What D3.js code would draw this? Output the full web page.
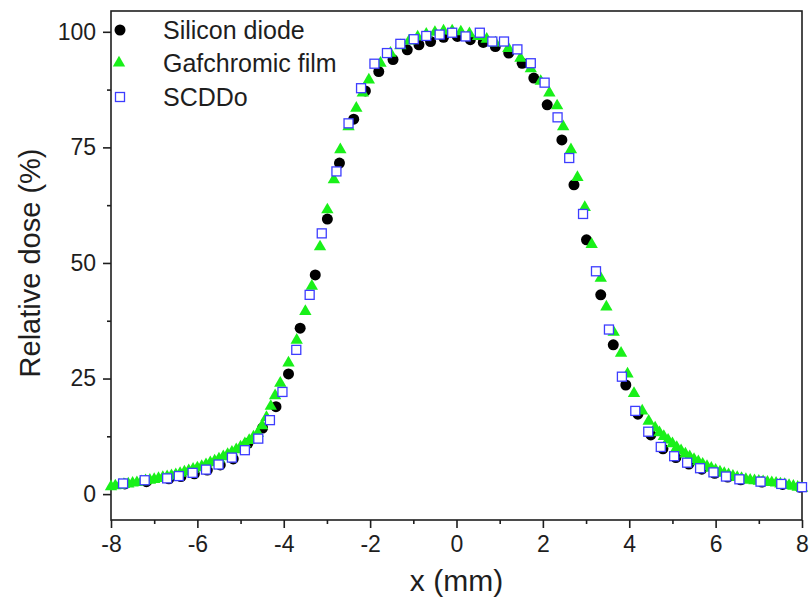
<!DOCTYPE html>
<html>
<head>
<meta charset="utf-8">
<script src="https://cdn.jsdelivr.net/npm/d3@7"></script>
<style>
  body { margin: 0; background: #fff; }
  text { font-family: "Liberation Sans", Arial, sans-serif; fill: #1e1e1e; }
</style>
</head>
<body>
<div id="chart"></div>
<script>
// Silicon diode (black dots)
var diodeX = [-7.68, -7.18, -6.66, -6.38, -6.07, -5.77, -5.47, -5.17, -4.83, -4.49, -4.18, -3.89, -3.62, -3.27,
  -2.99, -2.71, -2.38, -2.11, -1.80, -1.47, -1.14, -0.87, -0.60, -0.30, 0.02, 0.32, 0.62, 0.90, 1.21, 1.52,
  1.79, 2.10, 2.44, 2.72, 3.01, 3.34, 3.63, 3.92, 4.20, 4.50, 4.78, 5.08, 5.38, 5.68, 5.98, 6.28, 6.58,
  7.07, 7.55, 7.95];
var diodeY = [2.2, 2.7, 3.3, 3.8, 4.4, 5.2, 6.3, 7.6, 11.0, 14.3, 18.9, 26.0, 35.9, 47.4,
  59.5, 71.6, 81.1, 87.2, 91.4, 94.0, 96.1, 97.2, 97.9, 98.8, 99.0, 98.3, 97.7, 96.8, 95.4, 93.2,
  90.0, 84.2, 76.6, 66.9, 55.0, 43.1, 32.3, 23.6, 17.3, 12.8, 9.8, 7.9, 6.5, 5.4, 4.5, 3.7, 3.1,
  2.6, 2.1, 1.5];

// Gafchromic film (green triangles)
var filmX = [-8.0, -7.9, -7.8, -7.7, -7.6, -7.5, -7.4, -7.3, -7.2, -7.1, -7.0, -6.9, -6.8, -6.7, -6.6, -6.5,
  -6.4, -6.3, -6.2, -6.1, -6.0, -5.9, -5.8, -5.7, -5.6, -5.5, -5.4, -5.3, -5.2, -5.1, -5.0, -4.9, -4.8,
  -4.7, -4.6, -4.5, -4.4, -4.3, -4.2, -4.08, -3.89, -3.70, -3.50, -3.35, -3.16, -2.99, -2.84, -2.69,
  -2.50, -2.32, -2.17, -2.03, -1.76, -1.53, -1.3, -1.1, -0.9, -0.7, -0.5, -0.3, -0.1, 0.1, 0.3, 0.5,
  0.7, 0.9, 1.2, 1.48, 1.72, 1.95, 2.15, 2.33, 2.47, 2.65, 2.8, 2.97, 3.13, 3.34, 3.47, 3.64, 3.81,
  3.96, 4.11, 4.3, 4.45, 4.6, 4.7, 4.8, 4.9, 5.0, 5.1, 5.2, 5.3, 5.4, 5.5, 5.6, 5.7, 5.8, 5.9, 6.0,
  6.1, 6.2, 6.3, 6.4, 6.5, 6.6, 6.7, 6.8, 6.9, 7.0, 7.1, 7.2, 7.3, 7.4, 7.5, 7.6, 7.7, 7.8, 7.9, 8.0];
var filmY = [1.6, 1.8, 1.9, 2.1, 2.2, 2.4, 2.5, 2.7, 2.9, 3.0, 3.2, 3.4, 3.6, 3.8, 4.0, 4.2,
  4.5, 4.8, 5.1, 5.4, 5.7, 6.0, 6.4, 6.8, 7.2, 7.6, 8.1, 8.6, 9.1, 9.6, 10.2, 10.9, 11.6,
  12.4, 13.2, 14.8, 16.6, 19.0, 21.3, 24.0, 28.4, 33.3, 39.5, 45.0, 53.5, 61.5, 68.0, 74.5,
  79.5, 83.5, 86.8, 89.6, 93.2, 95.4, 97.0, 98.0, 98.9, 99.5, 99.9, 100.2, 100.2, 100.0, 99.6, 99.0,
  98.4, 97.6, 96.4, 94.3, 92.0, 89.3, 86.8, 84.0, 79.5, 74.5, 68.5, 62.0, 54.0, 46.7, 40.5, 35.0, 30.5,
  26.0, 21.8, 18.0, 15.8, 14.3, 13.3, 12.5, 11.7, 10.9, 10.1, 9.4, 8.7, 8.1, 7.5, 7.0, 6.5, 6.0, 5.6, 5.2,
  4.8, 4.5, 4.2, 3.9, 3.6, 3.4, 3.2, 3.0, 2.9, 2.8, 2.7, 2.6, 2.5, 2.4, 2.2, 2.1, 1.9, 1.7, 1.5, 1.3];

// SCDDo (open blue squares)
var scddoX = [-7.72, -7.22, -6.70, -6.43, -6.11, -5.80, -5.51, -5.20, -4.90, -4.59, -4.32, -4.03, -3.71,
  -3.40, -3.12, -2.78, -2.50, -2.21, -1.90, -1.61, -1.30, -0.99, -0.70, -0.39, -0.10, 0.21, 0.54, 0.83,
  1.10, 1.41, 1.72, 2.04, 2.34, 2.61, 2.93, 3.23, 3.53, 3.83, 4.14, 4.44, 4.73, 5.04, 5.34, 5.64, 5.95,
  6.24, 6.55, 7.04, 7.52, 8.0];
var scddoY = [2.3, 3.0, 3.4, 3.9, 4.6, 5.3, 6.4, 7.9, 9.5, 12.0, 16.0, 22.1, 31.2,
  43.1, 56.4, 69.8, 80.2, 87.8, 93.1, 95.4, 97.4, 98.4, 99.1, 99.4, 99.8, 99.0, 99.8, 97.9,
  97.9, 96.2, 93.2, 89.0, 81.5, 72.7, 60.6, 48.2, 35.6, 25.4, 18.0, 13.5, 10.2, 8.2, 6.8, 5.6, 4.7,
  3.8, 3.2, 2.7, 2.2, 1.5];

var xTicks = [-8, -6, -4, -2, 0, 2, 4, 6, 8];
var yTicks = [0, 25, 50, 75, 100];
var seriesNames = ["Silicon diode", "Gafchromic film", "SCDDo"];

var W = 810, H = 606;
var svg = d3.select("#chart").append("svg").attr("width", W).attr("height", H);

var x = d3.scaleLinear().domain([-8, 8]).range([111, 802]);
var y = d3.scaleLinear().domain([-5.6, 104.5]).range([520, 11]);

var ink = "#1e1e1e";

// frame
svg.append("rect")
  .attr("x", x.range()[0]).attr("y", y.range()[1])
  .attr("width", x.range()[1] - x.range()[0])
  .attr("height", y.range()[0] - y.range()[1])
  .attr("fill", "none").attr("stroke", ink).attr("stroke-width", 1.6);

// minor ticks
var xMinor = [-7, -5, -3, -1, 1, 3, 5, 7];
var yMinor = [12.5, 37.5, 62.5, 87.5];

// plain hyphen for negatives, like the original
var fmt = function (d) { return String(d); };

var xAxis = svg.append("g").attr("transform", `translate(0, ${y.range()[0]})`)
  .call(d3.axisBottom(x).tickValues(xTicks).tickSize(8).tickPadding(8).tickFormat(fmt));
xAxis.append("g").call(d3.axisBottom(x).tickValues(xMinor).tickSize(4).tickFormat(""));

var yAxis = svg.append("g").attr("transform", `translate(${x.range()[0]}, 0)`)
  .call(d3.axisLeft(y).tickValues(yTicks).tickSize(8).tickPadding(7).tickFormat(fmt));
yAxis.append("g").call(d3.axisLeft(y).tickValues(yMinor).tickSize(4).tickFormat(""));

svg.selectAll(".domain").remove();
svg.selectAll(".tick line").attr("stroke", ink).attr("stroke-width", 1.6);
svg.selectAll(".tick text").style("font-size", "23px").attr("fill", ink)
  .style("font-family", '"Liberation Sans", Arial, sans-serif');

// axis titles
svg.append("text")
  .attr("x", x(0)).attr("y", 591)
  .attr("text-anchor", "middle").style("font-size", "30px")
  .text("x (mm)");

svg.append("text")
  .attr("transform", `translate(40, ${y(50)}) rotate(-90)`)
  .attr("text-anchor", "middle").style("font-size", "29px")
  .text("Relative dose (%)");

var diode = diodeX.map(function (d, i) { return { x: d, y: diodeY[i] }; });
var film = filmX.map(function (d, i) { return { x: d, y: filmY[i] }; });
var scddo = scddoX.map(function (d, i) { return { x: d, y: scddoY[i] }; });

var green = "#19f019", blue = "#3d3dff";
var tri = d3.symbol().type(d3.symbolTriangle).size(66);

var plot = svg.append("g");

plot.selectAll(".dot").data(diode).enter().append("circle")
  .attr("class", "dot")
  .attr("cx", function (d) { return x(d.x); })
  .attr("cy", function (d) { return y(d.y); })
  .attr("r", 5.5).attr("fill", "#000");

plot.selectAll(".tri").data(film).enter().append("path")
  .attr("class", "tri")
  .attr("d", tri)
  .attr("transform", function (d) { return `translate(${x(d.x)}, ${y(d.y)})`; })
  .attr("fill", green);

plot.selectAll(".sq").data(scddo).enter().append("rect")
  .attr("class", "sq")
  .attr("x", function (d) { return x(d.x) - 4.5; })
  .attr("y", function (d) { return y(d.y) - 4.5; })
  .attr("width", 9).attr("height", 9)
  .attr("fill", "#fff").attr("stroke", blue).attr("stroke-width", 1.3);

// legend
var legend = svg.append("g");
var legY = [30, 63, 97];
legend.append("circle").attr("cx", 120).attr("cy", legY[0]).attr("r", 5.5).attr("fill", "#000");
legend.append("path").attr("d", tri).attr("transform", `translate(119, ${legY[1]})`).attr("fill", green);
legend.append("rect").attr("x", 115.5).attr("y", legY[2] - 4.5).attr("width", 9).attr("height", 9)
  .attr("fill", "#fff").attr("stroke", blue).attr("stroke-width", 1.3);

legend.selectAll(".lbl").data(seriesNames).enter().append("text")
  .attr("class", "lbl")
  .attr("x", 163)
  .attr("y", function (d, i) { return legY[i]; })
  .attr("dy", "0.36em")
  .style("font-size", "25px")
  .text(function (d) { return d; });
</script>
</body>
</html>
